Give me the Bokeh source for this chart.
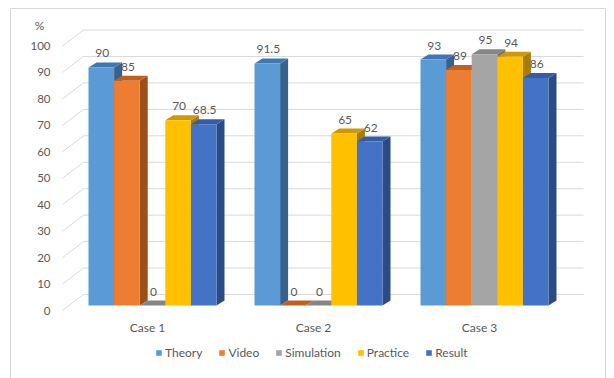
from bokeh.plotting import figure
from bokeh.models import Range1d, LinearAxis, FixedTicker, ColumnDataSource, Legend, LegendItem
from bokeh.embed import file_html
from bokeh.resources import INLINE
from bokeh.core.properties import value

# ---- data ----
cases = ["Case 1", "Case 2", "Case 3"]
series = ["Theory", "Video", "Simulation", "Practice", "Result"]
theory = [90, 91.5, 93]
video = [85, 0, 89]
simulation = [0, 0, 95]
practice = [70, 65, 94]
result = [68.5, 62, 86]
y_ticks = [0, 10, 20, 30, 40, 50, 60, 70, 80, 90, 100]
y_unit = "%"

front_colors = ["#5B9BD5", "#ED7D31", "#A5A5A5", "#FFC000", "#4472C4"]
top_colors = ["#3F77B0", "#C0601F", "#858585", "#CC9A00", "#345DA3"]
side_colors = ["#35628F", "#9E4E18", "#707070", "#A67D00", "#2B4B86"]

# ---- geometry (screen-pixel based layout) ----
W, H = 614, 378
PX = 2.645          # pixels per value unit
Y0 = 305            # pixel row of value 0 on bar front plane
GROUP0 = 88         # left edge of first group
GSTEP = 166         # distance between groups
BW = 25.6           # bar width
DX, DYPX = 8, 5     # bar depth offset
LAB_DY = 5          # label plane is 5px in front of bars (downwards)
BACK_DY = 11        # back wall is 11px behind bar fronts (upwards)
SIDE_X0, BACK_X0, BACK_X1 = 62, 83, 583
FONT = "Lato"
TXT = "#595959"


def v(py):
    return (Y0 - py) / PX


dy = DYPX / PX
p = figure(width=W, height=H, x_range=Range1d(0, W), y_range=Range1d(v(H), v(0)),
           output_backend="svg", toolbar_location=None, min_border=0,
           x_axis_location=None, y_axis_location=None)
p.xgrid.visible = False
p.ygrid.visible = False
p.outline_line_color = None
p.background_fill_color = "white"
p.border_fill_color = "white"
p.extra_y_ranges = {"lab": Range1d(v(H) + LAB_DY / PX, v(0) + LAB_DY / PX)}

# chart border
p.quad(left=[10], right=[605], top=[v(8)], bottom=[v(H + 10)], fill_color=None,
       line_color="#D9D9D9", line_width=1)

# gridlines on back wall and side diagonals
p.segment(x0=[BACK_X0] * len(y_ticks), x1=[BACK_X1] * len(y_ticks),
          y0=[t + BACK_DY / PX for t in y_ticks], y1=[t + BACK_DY / PX for t in y_ticks],
          line_color="#D9D9D9", line_width=1)
p.segment(x0=[SIDE_X0] * len(y_ticks), x1=[BACK_X0] * len(y_ticks),
          y0=[t - LAB_DY / PX for t in y_ticks], y1=[t + BACK_DY / PX for t in y_ticks],
          line_color="#D9D9D9", line_width=1)

all_vals = [theory, video, simulation, practice, result]
legend_items = []
lab_x, lab_y, lab_t = [], [], []
for j, (name, vals) in enumerate(zip(series, all_vals)):
    lefts = [GROUP0 + i * GSTEP + j * BW for i in range(len(cases))]
    rights = [l + BW for l in lefts]
    side_xs = [[r, r + DX, r + DX, r] for r in rights]
    side_ys = [[0, dy, val + dy, val] for val in vals]
    top_xs = [[l, r, r + DX, l + DX] for l, r in zip(lefts, rights)]
    top_ys = [[val, val, val + dy, val + dy] for val in vals]
    p.patches(xs=side_xs, ys=side_ys, fill_color=side_colors[j], line_color=None)
    p.patches(xs=top_xs, ys=top_ys, fill_color=top_colors[j], line_color=None)
    src = ColumnDataSource(dict(left=lefts, right=rights, top=vals, bottom=[0] * len(vals)))
    r = p.quad(left="left", right="right", top="top", bottom="bottom", source=src,
               fill_color=front_colors[j], line_color=None)
    legend_items.append(LegendItem(label=name, renderers=[r]))
    for l, val in zip(lefts, vals):
        lab_x.append(l + BW / 2 + 1)
        lab_y.append(val)
        lab_t.append(f"{val:g}")

p.text(x=lab_x, y=lab_y, text=lab_t, text_align="center", text_baseline="middle",
       y_offset=-14, text_font=value(FONT), text_font_size="12px", text_color=TXT)

# unit label
p.text(x=[39], y=[v(25)], text=[y_unit], text_align="center", text_baseline="middle",
       text_font=value(FONT), text_font_size="12px", text_color=TXT)

# y axis
yax = LinearAxis(y_range_name="lab", ticker=FixedTicker(ticks=y_ticks), fixed_location=SIDE_X0,
                 axis_line_color=None, major_tick_line_color=None, minor_tick_line_color=None,
                 major_tick_in=0, major_tick_out=0, minor_tick_in=0, minor_tick_out=0,
                 major_label_standoff=12, major_label_text_font=FONT,
                 major_label_text_font_size="11.5px", major_label_text_color=TXT)
p.add_layout(yax, "left")

# x axis
case_ticks = [round(GROUP0 + i * GSTEP + 2.5 * BW - 5) for i in range(len(cases))]
xax = LinearAxis(ticker=FixedTicker(ticks=case_ticks), fixed_location=0,
                 major_label_overrides={t: c for t, c in zip(case_ticks, cases)},
                 axis_line_color=None, major_tick_line_color=None, minor_tick_line_color=None,
                 major_tick_in=0, major_tick_out=0, minor_tick_in=0, minor_tick_out=0,
                 major_label_standoff=14, major_label_text_font=FONT,
                 major_label_text_font_size="12px", major_label_text_color=TXT)
p.add_layout(xax, "below")

legend = Legend(items=legend_items, orientation="horizontal", location=(155, 18),
                label_text_font=FONT, label_text_font_size="12px", label_text_color=TXT,
                glyph_width=7, glyph_height=7, label_standoff=3, spacing=16, padding=0,
                margin=0, border_line_color=None, background_fill_alpha=0, label_height=13)
p.add_layout(legend)

open("out.html", "w").write(file_html(p, INLINE))
